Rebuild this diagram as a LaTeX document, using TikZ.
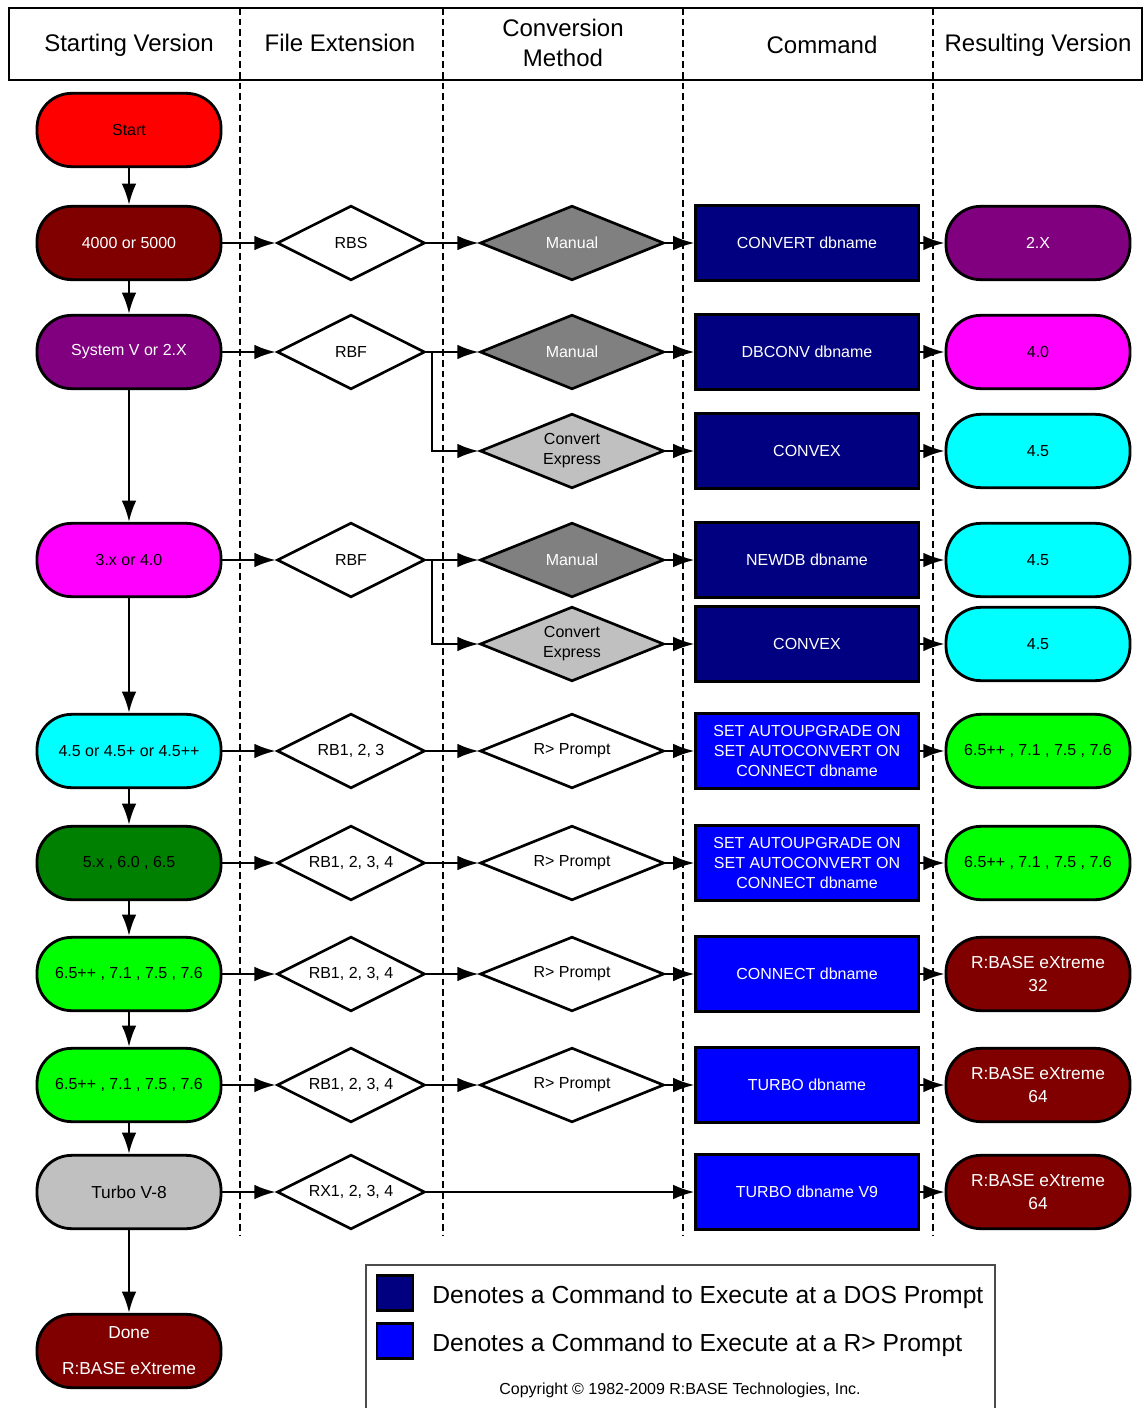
\documentclass[tikz,border=0pt]{standalone}
\usepackage{fontspec}
\setmainfont{Liberation Sans}
\usetikzlibrary{shapes.geometric,arrows.meta}
\definecolor{dred}{HTML}{800000}
\definecolor{purp}{HTML}{800080}
\definecolor{navyb}{HTML}{000080}
\definecolor{blueb}{HTML}{0000FF}
\definecolor{dgreen}{HTML}{008000}
\definecolor{limeg}{HTML}{00FF00}
\definecolor{silv}{HTML}{C0C0C0}
\definecolor{grayd}{HTML}{808080}
\definecolor{magf}{HTML}{FF00FF}
\definecolor{cyanf}{HTML}{00FFFF}
\definecolor{redf}{HTML}{FF0000}
\begin{document}
\begin{tikzpicture}[x=0.75pt,y=-0.75pt,
  nodefont/.style={font=\fontsize{12}{15}\selectfont},
  term/.style={draw=black,line width=2.1pt,rounded corners=26pt,minimum width=138pt,minimum height=55pt,inner sep=2pt,align=center,nodefont},
  cmd/.style={draw=black,line width=1.8pt,minimum width=167pt,minimum height=56pt,inner sep=2pt,align=center,text=white,nodefont},
  ext/.style={diamond,aspect=2,draw=black,line width=2pt,minimum width=111pt,minimum height=56pt,inner sep=0pt,fill=white,nodefont},
  meth/.style={diamond,aspect=2.5,draw=black,line width=2pt,minimum width=138pt,minimum height=56pt,inner sep=0pt,align=center,nodefont},
  arr/.style={line width=1.8pt,-{Latex[length=16pt,width=11pt]}},
  coldiv/.style={line width=1.6pt,dash pattern=on 5pt off 3pt},
  hdr/.style={font=\fontsize{18}{22.5}\selectfont,align=center},
]
\useasboundingbox (0,0) rectangle (1144,1408);
% header
\draw[line width=1.6pt] (9,8) rectangle (1142,80);
\node[hdr] (h1) at (129,45) {Starting Version};
\node[hdr] (h2) at (340,43) {File Extension};
\node[hdr] (h3) at (563,43) {Conversion\\Method};
\node[hdr] (h4) at (822,45) {Command};
\node[hdr] (h5) at (1038,45) {Resulting Version};
% column dividers
\foreach \xx in {240,443,683,933} \draw[coldiv] (\xx,8) -- (\xx,1235);
% column 1
\node[term,fill=redf] (start) at (129,130) {Start};
\node[term,fill=dred,text=white] (s4000) at (129,243) {4000 or 5000};
\node[term,fill=purp,text=white] (ssys) at (129,352) {System V or 2.X};
\node[term,fill=magf] (s3x) at (129,560) {3.x or 4.0};
\node[term,fill=cyanf] (s45) at (129,751) {4.5 or 4.5+ or 4.5++};
\node[term,fill=dgreen] (s5x) at (129,863) {5.x , 6.0 , 6.5};
\node[term,fill=limeg] (s65a) at (129,974) {6.5++ , 7.1 , 7.5 , 7.6};
\node[term,fill=limeg] (s65b) at (129,1085) {6.5++ , 7.1 , 7.5 , 7.6};
\node[term,fill=silv,font=\fontsize{13}{16}\selectfont] (sturbo) at (129,1192) {Turbo V-8};
\node[term,fill=dred,text=white,font=\fontsize{13}{16}\selectfont] (done) at (129,1351) {Done\\[11pt]R:BASE eXtreme};
% column 2
\node[ext] (e1) at (351,243) {RBS};
\node[ext] (e2) at (351,352) {RBF};
\node[ext] (e3) at (351,560) {RBF};
\node[ext] (e4) at (351,751) {RB1, 2, 3};
\node[ext] (e5) at (351,863) {RB1, 2, 3, 4};
\node[ext] (e6) at (351,974) {RB1, 2, 3, 4};
\node[ext] (e7) at (351,1085) {RB1, 2, 3, 4};
\node[ext] (e8) at (351,1192) {RX1, 2, 3, 4};
% column 3
\node[meth,fill=grayd,text=white] (m1) at (572,243) {Manual};
\node[meth,fill=grayd,text=white] (m2) at (572,352) {Manual};
\node[meth,fill=silv] (m3) at (572,451) {Convert\\Express};
\node[meth,fill=grayd,text=white] (m4) at (572,560) {Manual};
\node[meth,fill=silv] (m5) at (572,644) {Convert\\Express};
\node[meth,fill=white] (m6) at (572,751) {R> Prompt};
\node[meth,fill=white] (m7) at (572,863) {R> Prompt};
\node[meth,fill=white] (m8) at (572,974) {R> Prompt};
\node[meth,fill=white] (m9) at (572,1085) {R> Prompt};
% column 4
\node[cmd,fill=navyb] (c1) at (807,243) {CONVERT dbname};
\node[cmd,fill=navyb] (c2) at (807,352) {DBCONV dbname};
\node[cmd,fill=navyb] (c3) at (807,451) {CONVEX};
\node[cmd,fill=navyb] (c4) at (807,560) {NEWDB dbname};
\node[cmd,fill=navyb] (c5) at (807,644) {CONVEX};
\node[cmd,fill=blueb] (c6) at (807,751) {SET AUTOUPGRADE ON\\SET AUTOCONVERT ON\\CONNECT dbname};
\node[cmd,fill=blueb] (c7) at (807,863) {SET AUTOUPGRADE ON\\SET AUTOCONVERT ON\\CONNECT dbname};
\node[cmd,fill=blueb] (c8) at (807,974) {CONNECT dbname};
\node[cmd,fill=blueb] (c9) at (807,1085) {TURBO dbname};
\node[cmd,fill=blueb] (c10) at (807,1192) {TURBO dbname V9};
% column 5
\node[term,fill=purp,text=white] (r1) at (1038,243) {2.X};
\node[term,fill=magf] (r2) at (1038,352) {4.0};
\node[term,fill=cyanf] (r3) at (1038,451) {4.5};
\node[term,fill=cyanf] (r4) at (1038,560) {4.5};
\node[term,fill=cyanf] (r5) at (1038,644) {4.5};
\node[term,fill=limeg] (r6) at (1038,751) {6.5++ , 7.1 , 7.5 , 7.6};
\node[term,fill=limeg] (r7) at (1038,863) {6.5++ , 7.1 , 7.5 , 7.6};
\node[term,fill=dred,text=white,font=\fontsize{13}{17}\selectfont] (r8) at (1038,974) {R:BASE eXtreme\\32};
\node[term,fill=dred,text=white,font=\fontsize{13}{17}\selectfont] (r9) at (1038,1085) {R:BASE eXtreme\\64};
\node[term,fill=dred,text=white,font=\fontsize{13}{17}\selectfont] (r10) at (1038,1192) {R:BASE eXtreme\\64};
% vertical flow
\draw[arr] (start) -- (s4000);
\draw[arr] (s4000) -- (ssys);
\draw[arr] (ssys) -- (s3x);
\draw[arr] (s3x) -- (s45);
\draw[arr] (s45) -- (s5x);
\draw[arr] (s5x) -- (s65a);
\draw[arr] (s65a) -- (s65b);
\draw[arr] (s65b) -- (sturbo);
\draw[arr] (sturbo) -- (done);
% rows: start -> extension
\draw[arr] (s4000) -- (e1);
\draw[arr] (ssys) -- (e2);
\draw[arr] (s3x) -- (e3);
\draw[arr] (s45) -- (e4);
\draw[arr] (s5x) -- (e5);
\draw[arr] (s65a) -- (e6);
\draw[arr] (s65b) -- (e7);
\draw[arr] (sturbo) -- (e8);
% extension -> method
\draw[arr] (e1) -- (m1);
\draw[arr] (e2) -- (m2);
\coordinate (b1) at (432,352);
\draw[arr] (b1) |- (m3);
\draw[arr] (e3) -- (m4);
\coordinate (b2) at (432,560);
\draw[arr] (b2) |- (m5);
\draw[arr] (e4) -- (m6);
\draw[arr] (e5) -- (m7);
\draw[arr] (e6) -- (m8);
\draw[arr] (e7) -- (m9);
\draw[arr] (e8) -- (c10);
% method -> command
\draw[arr] (m1) -- (c1);
\draw[arr] (m2) -- (c2);
\draw[arr] (m3) -- (c3);
\draw[arr] (m4) -- (c4);
\draw[arr] (m5) -- (c5);
\draw[arr] (m6) -- (c6);
\draw[arr] (m7) -- (c7);
\draw[arr] (m8) -- (c8);
\draw[arr] (m9) -- (c9);
% command -> result
\draw[arr] (c1) -- (r1);
\draw[arr] (c2) -- (r2);
\draw[arr] (c3) -- (r3);
\draw[arr] (c4) -- (r4);
\draw[arr] (c5) -- (r5);
\draw[arr] (c6) -- (r6);
\draw[arr] (c7) -- (r7);
\draw[arr] (c8) -- (r8);
\draw[arr] (c9) -- (r9);
\draw[arr] (c10) -- (r10);
% legend
\draw[line width=1pt,draw=black!70] (366,1410) |- (995,1265) -- (995,1410);
\node[draw=black,line width=2pt,fill=navyb,minimum width=27pt,minimum height=26pt,inner sep=0pt] (lg1) at (395,1293) {};
\node[draw=black,line width=2pt,fill=blueb,minimum width=27pt,minimum height=26pt,inner sep=0pt] (lg2) at (395,1341) {};
\node[anchor=west,font=\fontsize{18.5}{22}\selectfont,inner sep=0pt] (lt1) at (432,1297) {Denotes a Command to Execute at a DOS Prompt};
\node[anchor=west,font=\fontsize{18.5}{22}\selectfont,inner sep=0pt] (lt2) at (432,1345) {Denotes a Command to Execute at a R> Prompt};
\node[font=\fontsize{12}{14}\selectfont] (copy) at (680,1390) {Copyright © 1982-2009 R:BASE Technologies, Inc.};
\end{tikzpicture}
\end{document}
